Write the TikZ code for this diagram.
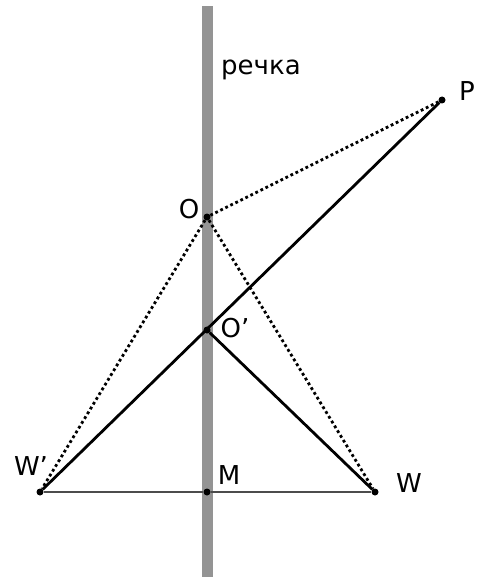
\documentclass[tikz,border=0pt]{standalone}
\usepackage{fontspec}
\setmainfont{DejaVu Sans}
\begin{document}
\begin{tikzpicture}[x=1pt,y=-1pt,
  lbl/.style={font=\fontsize{26}{30}\selectfont, inner sep=0pt},
  pt/.style={circle,fill=black,inner sep=0pt,minimum size=7pt},
  solidline/.style={line width=2.8pt, black},
  dotline/.style={line width=2.8pt, black, dash pattern=on 2.8pt off 2.8pt},
  baseline/.style={line width=1.8pt, black!70}]
\useasboundingbox (0,0) rectangle (482,577);
\fill[black!42] (201.5,6) rectangle (213,577);
\node[pt] (P) at (442,100) {};
\node[pt] (O) at (207,217) {};
\node[pt] (Op) at (207,330) {};
\node[pt] (Wp) at (40,492) {};
\node[pt] (M) at (207,492) {};
\node[pt] (W) at (375,492) {};
\draw[baseline] (Wp) -- (M) -- (W);
\draw[dotline] (O) -- (P);
\draw[dotline] (O) -- (Wp);
\draw[dotline] (O) -- (W);
\draw[solidline] (Wp) -- (P);
\draw[solidline] (Op) -- (W);
\node[lbl, anchor=west] (river) at (221,70) {речка};
\node[lbl] (lP) at (467,91) {P};
\node[lbl] (lO) at (189,209) {O};
\node[lbl] (lOp) at (235,328) {O’};
\node[lbl] (lWp) at (31,466) {W’};
\node[lbl] (lM) at (229,475) {M};
\node[lbl] (lW) at (409,483) {W};
\end{tikzpicture}
\end{document}
